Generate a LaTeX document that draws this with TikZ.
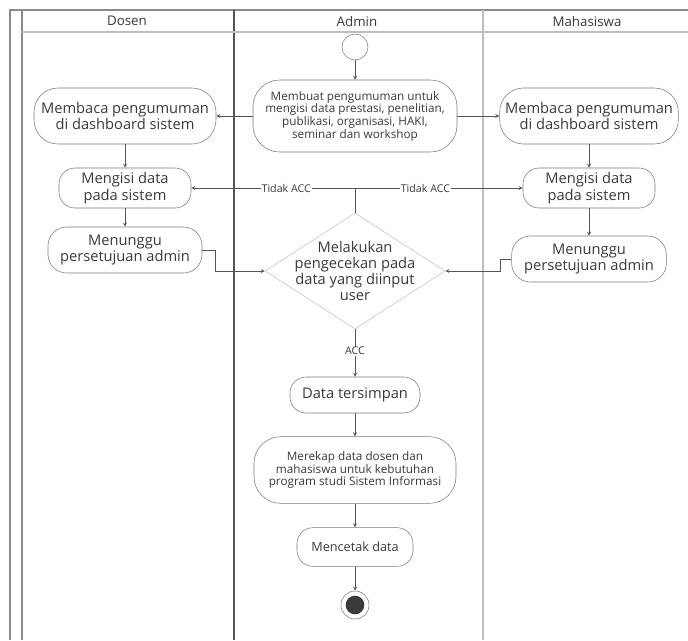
\documentclass[tikz,border=0pt]{standalone}
\usepackage{fontspec}
\setmainfont{Open Sans}
\usetikzlibrary{shapes.geometric}
\definecolor{inkgray}{HTML}{3A3A3A}
\definecolor{linegray}{HTML}{555555}
\definecolor{boxgray}{HTML}{7A7A7A}
\definecolor{lanegray}{HTML}{8A8A8A}
\definecolor{palegray}{HTML}{BDBDBD}
\definecolor{diagray}{HTML}{B5C4BF}
\def\lanetop{10}
\def\lanebot{640}
\tikzset{
semithick, % connectors and boxes
>=stealth,
lane/.style={draw=lanegray,line width=1.1pt},
lane head/.style={text=inkgray,font=\fontsize{10}{12}\selectfont,inner sep=0pt},
act/.style={draw=boxgray,fill=white,text=inkgray,rounded corners=12pt,
  align=center,inner sep=1pt,font=\fontsize{11}{12.5}\selectfont},
small act/.style={act,font=\fontsize{8.8}{9.5}\selectfont},
check/.style={diamond,draw=diagray,fill=white,inner sep=0pt,
  minimum width=135pt,minimum height=87pt},
check text/.style={text=inkgray,align=center,inner sep=0pt,
  font=\fontsize{11}{12}\selectfont},
start/.style={circle,draw=boxgray,fill=white,minimum size=19.5pt,inner sep=0pt},
stop/.style={circle,draw=boxgray,fill=white,minimum size=21pt,inner sep=0pt,
  path picture={\fill[inkgray] (path picture bounding box.center) circle (7pt);}},
flow/.style={draw=linegray,->},
guard/.style={fill=white,text=inkgray,inner sep=0.5pt,font=\fontsize{8}{9}\selectfont}
}
\begin{document}
\begin{tikzpicture}[x=0.75pt,y=-0.75pt]
\useasboundingbox (0,0) rectangle (688,640);
% swimlanes
\draw[lane] (10,\lanebot) -- (10,\lanetop) -- (688,\lanetop);
\draw[lane] (22,\lanebot) -- (22,\lanetop);
\draw[lane,draw=linegray] (234,\lanebot) -- (234,\lanetop);
\draw[lane,draw=palegray] (483,\lanebot) -- (483,\lanetop);
\draw[lane,draw=palegray,line width=0.9pt] (22,32) -- (688,32);
\node[lane head] (hdosen) at (127,21) {Dosen};
\node[lane head] (hadmin) at (357,21) {Admin};
\node[lane head] (hmhs) at (587,21) {Mahasiswa};

% admin
\node[start] (mulai) at (355,47) {};
\node[small act,minimum width=153pt,minimum height=54pt,rounded corners=20pt] (umum) at (355,116)
  {Membuat pengumuman untuk\\mengisi data prestasi, penelitian,\\publikasi, organisasi, HAKI,\\seminar dan workshop};
\node[check] (cek) at (355,271) {};
\node[check text] (cektext) at (cek.center) {Melakukan\\pengecekan pada\\data yang diinput\\user};
\node[act,minimum width=97.5pt,minimum height=27pt] (simpan) at (355,395) {Data tersimpan};
\node[small act,minimum width=151.5pt,minimum height=50pt,rounded corners=20pt] (rekap) at (355,470)
  {Merekap data dosen dan\\mahasiswa untuk kebutuhan\\program studi Sistem Informasi};
\node[act,font=\fontsize{9.5}{11}\selectfont,minimum width=87pt,minimum height=29pt] (cetak) at (355,547) {Mencetak data};
\node[stop] (selesai) at (355,605) {};

% dosen
\node[act,minimum width=136.5pt,minimum height=42pt,rounded corners=18pt] (bacadosen) at (125,116)
  {Membaca pengumuman\\di dashboard sistem};
\node[act,minimum width=99pt,minimum height=30pt] (isidosen) at (125,188) {Mengisi data\\pada sistem};
\node[act,minimum width=115.5pt,minimum height=34.5pt,rounded corners=14pt] (tunggudosen) at (125,250)
  {Menunggu\\persetujuan admin};

% mahasiswa
\node[act,minimum width=134pt,minimum height=42pt,rounded corners=18pt] (bacamhs) at (589,116)
  {Membaca pengumuman\\di dashboard sistem};
\node[act,minimum width=99pt,minimum height=30pt] (isimhs) at (589,188) {Mengisi data\\pada sistem};
\node[act,minimum width=116pt,minimum height=34.5pt,rounded corners=14pt] (tunggumhs) at (589,259)
  {Menunggu\\persetujuan admin};

\draw[flow] (mulai) -- (umum);
\draw[flow] (umum) -- (bacadosen);
\draw[flow] (umum) -- (bacamhs);
\draw[flow] (bacadosen) -- (isidosen);
\draw[flow] (isidosen) -- (tunggudosen);
\draw[flow] (bacamhs) -- (isimhs);
\draw[flow] (isimhs) -- (tunggumhs);
\draw[flow] (tunggudosen.east) -- ++(13,0) |- (cek.west);
\draw[flow] (tunggumhs.west) -- ++(-11,0) |- (cek.east);
\draw[flow] (cek.north) |- node[guard,pos=0.71] {Tidak ACC} (isidosen.east);
\draw[flow] (cek.north) |- node[guard,pos=0.71] {Tidak ACC} (isimhs.west);
\draw[flow] (cek.south) -- node[guard,pos=0.46] {ACC} (simpan);
\draw[flow] (simpan) -- (rekap);
\draw[flow] (rekap) -- (cetak);
\draw[flow] (cetak) -- (selesai);
\end{tikzpicture}
\end{document}
